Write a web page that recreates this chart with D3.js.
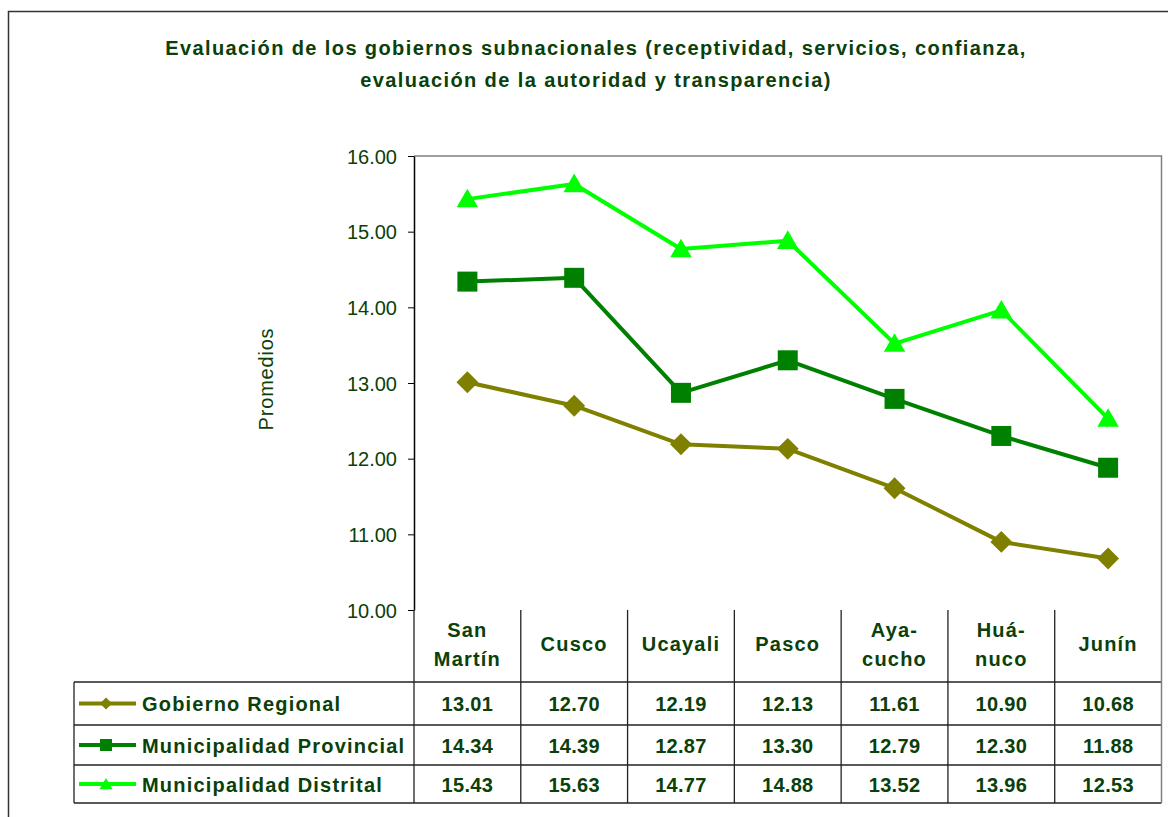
<!DOCTYPE html>
<html>
<head>
<meta charset="UTF-8">
<title></title>
<script src="https://d3js.org/d3.v7.min.js"></script>
<style>
  html, body { margin: 0; padding: 0; background: #fff; }
  text { font-family: "Liberation Sans", Arial, sans-serif; }
</style>
</head>
<body>
<div id="svg"></div>
<script>
// data
const categories = ['San Martín', 'Cusco', 'Ucayali', 'Pasco', 'Ayacucho', 'Huánuco', 'Junín'];
const catLines = [['San', 'Martín'], ['Cusco'], ['Ucayali'], ['Pasco'], ['Aya-', 'cucho'], ['Huá-', 'nuco'], ['Junín']];
const seriesNames = ['Gobierno Regional', 'Municipalidad Provincial', 'Municipalidad Distrital'];
const gobiernoRegional = [13.01, 12.70, 12.19, 12.13, 11.61, 10.90, 10.68];
const muniProvincial = [14.34, 14.39, 12.87, 13.30, 12.79, 12.30, 11.88];
const muniDistrital = [15.43, 15.63, 14.77, 14.88, 13.52, 13.96, 12.53];
const yTicks = [10, 11, 12, 13, 14, 15, 16];

const colors = ['#808000', '#008000', '#00ff00'];
const symbols = [d3.symbolSquare, d3.symbolSquare, d3.symbolTriangle];
const rotations = [45, 0, 0];
const symSizes = [240, 400, 200];
const legSizes = [72, 144, 75];
const txt = '#0a400a';

const svg = d3.select('#svg').append('svg').attr('width', 1168).attr('height', 817)

// outer frame
svg.append('rect').attr('x', 8.5).attr('y', 11.5).attr('width', 1170).attr('height', 820)
  .attr('fill', 'none').attr('stroke', '#333').attr('stroke-width', 1.5)

// title
const title = svg.append('text').attr('text-anchor', 'middle').attr('fill', txt)
  .attr('font-size', '20px').attr('font-weight', 'bold').attr('letter-spacing', '1.4px')
title.append('tspan').attr('x', 596).attr('y', 55).text('Evaluación de los gobiernos subnacionales (receptividad, servicios, confianza,')
title.append('tspan').attr('x', 596).attr('y', 87).text('evaluación de la autoridad y transparencia)')

const pLeft = 414, pRight = 1161.5, pTop = 156, pBottom = 610

const x = d3.scaleBand().domain(categories).range([pLeft, pRight])
const y = d3.scaleLinear().domain([10, 16]).range([pBottom, pTop])

// plot border (top, right gray)
svg.append('path').attr('d', `M${pLeft},${pTop}H${pRight}V${pBottom}`)
  .attr('fill', 'none').attr('stroke', '#808080').attr('stroke-width', 1.5)

// y axis
const yAxis = d3.axisLeft(y).tickValues(yTicks).tickFormat(d3.format('.2f')).tickSize(6).tickSizeOuter(0)
const ga = svg.append('g').attr('transform', `translate(${pLeft},0)`).call(yAxis)
ga.select('.domain').attr('stroke', '#000').attr('stroke-width', 1.5)
ga.selectAll('.tick line').attr('stroke', '#000')
ga.selectAll('.tick text').attr('fill', txt).attr('font-size', '20px').attr('x', -17).attr('dy', '0.36em')
  .attr('font-family', '"Liberation Sans", Arial, sans-serif')

// y label
svg.append('text').attr('transform', 'translate(273,379) rotate(-90)').attr('text-anchor', 'middle')
  .attr('fill', txt).attr('font-size', '20px').attr('letter-spacing', '0.8px').text('Promedios')

// lines and markers
const allSeries = [gobiernoRegional, muniProvincial, muniDistrital]
const line = d3.line().x((d, i) => x(categories[i]) + x.bandwidth() / 2).y(d => y(d))
allSeries.forEach((s, k) => {
  svg.append('path').datum(s).attr('d', line).attr('fill', 'none')
    .attr('stroke', colors[k]).attr('stroke-width', 4).attr('stroke-linejoin', 'round')
  svg.append('g').selectAll('path').data(s).enter().append('path')
    .attr('d', d3.symbol().type(symbols[k]).size(symSizes[k]))
    .attr('transform', (d, i) => `translate(${x(categories[i]) + x.bandwidth() / 2},${y(d) + (k === 2 ? 2 : 0)}) rotate(${rotations[k]})`)
    .attr('fill', colors[k])
})

// data table
const tLeft = 74
const rows = [pBottom, 682, 725, 765, 803]
const grid = svg.append('g').attr('stroke', '#222').attr('stroke-width', 1.3)
for (let r = 1; r < rows.length; r++) {
  grid.append('line').attr('x1', tLeft).attr('x2', pRight).attr('y1', rows[r]).attr('y2', rows[r])
}
grid.append('line').attr('x1', tLeft).attr('x2', tLeft).attr('y1', rows[1]).attr('y2', rows[4])
grid.append('line').attr('x1', pLeft).attr('x2', pLeft).attr('y1', pBottom).attr('y2', rows[4])
categories.forEach((c, i) => {
  if (i > 0) grid.append('line').attr('x1', x(c)).attr('x2', x(c)).attr('y1', pBottom).attr('y2', rows[4])
})
svg.append('line').attr('x1', pRight).attr('x2', pRight).attr('y1', pBottom).attr('y2', rows[4])
  .attr('stroke', '#808080').attr('stroke-width', 1.5)

// header labels
catLines.forEach((ls, i) => {
  const cx = x(categories[i]) + x.bandwidth() / 2
  const cy = (rows[0] + rows[1]) / 2
  const t = svg.append('text').attr('text-anchor', 'middle').attr('fill', txt)
    .attr('font-size', '20px').attr('font-weight', 'bold').attr('letter-spacing', '1.2px')
  ls.forEach((l, j) => {
    t.append('tspan').attr('x', cx).attr('y', cy + 5 + (j - (ls.length - 1) / 2) * 29).text(l)
  })
})

// rows
allSeries.forEach((s, k) => {
  const cy = (rows[k + 1] + rows[k + 2]) / 2
  svg.append('line').attr('x1', 79).attr('x2', 136).attr('y1', cy).attr('y2', cy)
    .attr('stroke', colors[k]).attr('stroke-width', 4)
  svg.append('path').attr('d', d3.symbol().type(symbols[k]).size(legSizes[k]))
    .attr('transform', `translate(106,${cy + (k === 2 ? 1.5 : 0)}) rotate(${rotations[k]})`).attr('fill', colors[k])
  svg.append('text').attr('x', 142).attr('y', cy + 7.5).attr('fill', txt)
    .attr('font-size', '20px').attr('font-weight', 'bold').attr('letter-spacing', '1.2px').text(seriesNames[k])
  svg.append('g').selectAll('text').data(s).enter().append('text')
    .attr('x', (d, i) => x(categories[i]) + x.bandwidth() / 2).attr('y', cy + 7.5)
    .attr('text-anchor', 'middle').attr('fill', txt).attr('font-size', '20px').attr('font-weight', 'bold')
    .attr('letter-spacing', '0.3px')
    .text(d => d.toFixed(2))
})
</script>
</body>
</html>
